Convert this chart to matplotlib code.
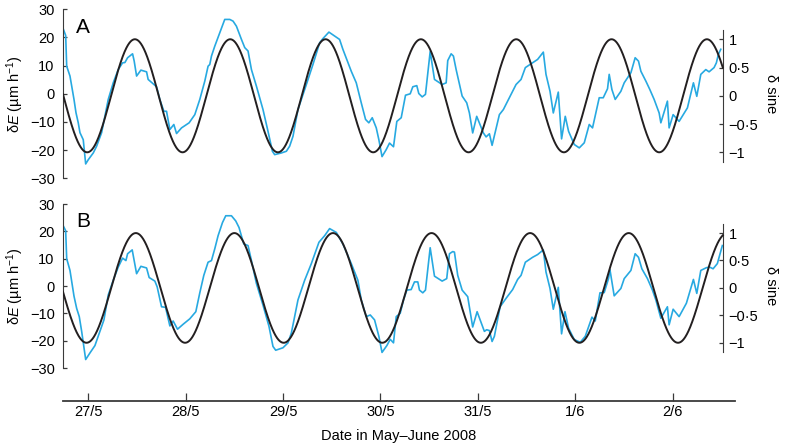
import numpy as np
import matplotlib
matplotlib.use("Agg")
import matplotlib.pyplot as plt

plt.rcParams['font.family'] = ['Liberation Sans', 'DejaVu Sans']
plt.rcParams['mathtext.fontset'] = 'custom'
plt.rcParams['mathtext.rm'] = 'Liberation Sans'
plt.rcParams['mathtext.it'] = 'Liberation Sans:italic'

# ---------------- data (hours since 27 May 2008 00:00) ----------------
hours_a = [-6.18, -5.59, -5.34, -4.53, -3.54, -3.05, -2.49, -2.07, -1.26, -0.66,
           -0.02, 1.21, 2.04, 3.27, 4.90, 5.32, 6.13, 7.36, 8.44, 9.01,
           9.67, 10.90, 11.30, 11.89, 12.95, 14.35, 14.74, 16.15, 16.81, 17.62,
           18.61, 19.27, 20.09, 21.07, 21.74, 22.97, 24.84, 26.24, 27.47, 28.70,
           29.51, 29.93, 30.35, 31.16, 32.39, 33.62, 34.86, 35.67, 36.50, 37.74,
           38.55, 39.36, 40.20, 41.43, 43.05, 44.28, 45.37, 45.93, 47.58, 48.81,
           49.62, 50.44, 51.67, 53.74, 55.36, 57.01, 57.82, 59.30, 61.93, 62.74,
           64.81, 66.04, 67.27, 68.33, 69.14, 69.98, 70.97, 71.61, 72.39, 73.43,
           74.24, 75.22, 76.04, 77.12, 78.18, 79.34, 79.98, 80.96, 81.45, 82.29,
           83.10, 84.26, 85.32, 87.21, 88.20, 88.59, 89.43, 89.99, 90.66, 92.14,
           93.27, 93.93, 94.74, 95.73, 97.38, 98.04, 98.86, 99.52, 101.32, 102.30,
           103.78, 105.43, 106.66, 107.72, 109.51, 110.74, 112.15, 112.81, 113.80, 114.61,
           115.84, 116.65, 117.56, 118.37, 119.78, 121.01, 122.24, 123.47, 124.28, 125.93,
           126.92, 127.98, 128.39, 129.06, 129.87, 131.27, 132.09, 133.74, 134.79, 135.61,
           136.20, 137.43, 138.41, 139.47, 140.70, 141.12, 142.74, 143.16, 144.15, 145.62,
           147.67, 149.15, 149.98, 150.97, 152.20, 153.01, 154.24, 154.81, 155.30, 155.89]
delta_e_a = [23, 20.7, 9.8, 6.3, -2, -6.7, -10.3, -13.8, -16.3, -24.9,
             -23.4, -21, -18.6, -13.8, -2, 0, 3.9, 8.6, 11, 11.1,
             12.8, 14.2, 11.6, 6.3, 8.4, 7.8, 5.1, 3.3, 2.5, -2,
             -6.2, -6.2, -12.7, -10.9, -14.1, -12.1, -10.3, -7.4, -2, 4.5,
             9.8, 10.4, 13.4, 16.9, 21.7, 26.4, 26.4, 25.8, 24, 19.3,
             16.4, 15.2, 8.6, 2.7, -5.6, -13.3, -20.4, -21.6, -21, -20.4,
             -18.6, -15.1, -5.6, 3.3, 10.4, 18.1, 19.6, 21.9, 19.3, 15.8,
             8, 3.9, -3.2, -9.1, -10.3, -8.5, -12.1, -16.3, -22.3, -19.8,
             -17.5, -18.8, -9.8, -8.5, -0.5, 0, 2.5, 2.9, 0.1, -1.1,
             -0.2, 15, 5.1, 3.3, 3.9, 11.8, 14.2, 13.4, 8.6, -0.8,
             -3.2, -6.8, -13.9, -8, -13.9, -15.3, -14.2, -18.3, -7.4, -5.6,
             -1.4, 3.3, 5.1, 9.3, 11, 12.2, 14.8, 6.9, 0.9, -6.8,
             0.6, -16, -8, -13.3, -18, -19.2, -17.4, -10.9, -12.1, -1.4,
             -1.4, 1.8, 6.9, 1.5, -2, 0.9, 3.9, 7.5, 12.8, 11.6,
             8, 4.5, 1.5, -2, -6.8, -10.3, -2.6, -12.1, -7.4, -9.8,
             -5, 3.9, -0.9, 6.9, 8.6, 7.8, 9.3, 11, 14, 15.8]

hours_b = [-6.18, -5.59, -5.34, -4.53, -3.54, -2.88, -2.24, -1.65, -0.66, 0.39,
           1.62, 2.86, 3.84, 4.90, 6.13, 7.36, 8.44, 9.26, 9.67, 10.81,
           11.30, 11.89, 12.95, 14.35, 14.99, 16.39, 16.96, 18.04, 19.03, 20.09,
           20.90, 21.98, 23.36, 25.01, 26.49, 27.47, 28.46, 29.51, 30.35, 31.16,
           31.98, 33.06, 33.87, 35.27, 36.33, 37.14, 38.30, 39.36, 40.20, 41.43,
           43.05, 44.53, 45.51, 46.18, 47.97, 49.21, 50.04, 50.44, 51.67, 53.32,
           54.97, 56.84, 58.24, 59.47, 61.12, 62.74, 64.81, 66.44, 67.27, 68.50,
           69.49, 70.55, 71.61, 72.39, 73.58, 74.41, 75.22, 75.89, 76.87, 77.69,
           78.50, 79.58, 80.39, 81.21, 81.62, 82.44, 83.10, 84.26, 85.32, 87.21,
           88.34, 89.01, 89.82, 90.24, 91.05, 92.14, 93.51, 94.74, 95.83, 97.62,
           98.19, 98.86, 99.52, 100.09, 101.49, 102.97, 104.59, 105.82, 106.66, 107.72,
           109.51, 110.74, 112.15, 112.81, 113.80, 114.61, 115.84, 116.65, 117.49, 118.37,
           119.78, 121.26, 122.49, 124.14, 124.95, 126.11, 127.16, 128.22, 128.57, 129.62,
           131.27, 132.09, 133.74, 134.79, 135.61, 136.44, 137.82, 139.05, 139.89, 141.12,
           142.74, 143.16, 144.15, 145.62, 147.42, 149.15, 149.98, 150.97, 152.35, 153.18,
           154.00, 155.05, 156.28]
delta_e_b = [22, 20.2, 10, 5.7, -3.7, -8.2, -11.2, -16.6, -26.9, -24.5,
             -21.8, -16.6, -12.4, -3.3, 2.1, 6.9, 10.2, 9.3, 11.8, 13.2,
             9.3, 4.5, 7.2, 6.6, 3.1, 1.8, -0.3, -7.6, -7.8, -14.6,
             -12.8, -15.8, -14, -12, -9.4, -2.5, 3.9, 8.7, 9.3, 13.6,
             18.4, 23.2, 25.7, 25.7, 23.8, 21.4, 15.4, 14.8, 9.3, 0.9,
             -7, -14.8, -22.1, -23.5, -22.6, -20.8, -17.2, -14.2, -5.1, 2.1,
             8.2, 16, 18.4, 21, 19.6, 15.4, 8.2, 2.1, -5.1, -11.2,
             -10.6, -12.4, -18.4, -24.3, -21.8, -19.5, -20.8, -11.2, -10, -5.1,
             -1.5, -1.3, 1.5, 1.5, -1.5, -2.5, -1.5, 14, 3.6, 1.8,
             2.7, 11.8, 12.6, 12.4, 3.9, -1.5, -3.9, -15, -9.4, -16.6,
             -16, -16.3, -20.3, -18.4, -7.6, -4.5, -1.3, 2.4, 3.9, 8.7,
             10.5, 11.5, 13.2, 5.1, -0.9, -8.5, -0.5, -17.5, -9.4, -15.4,
             -19.6, -20.6, -18.4, -11.4, -12.8, -2.5, -2.4, 2.7, 6, -3.6,
             -0.9, 2.7, 5.7, 11.8, 10.5, 6.3, 2.7, -1.5, -5.1, -11.8,
             -7.6, -14.2, -8.5, -11.2, -6.3, 2.4, -2.7, 5.7, 6.7, 6.9,
             6.3, 8.2, 14.8]

# reference sine curves: peak time (h) and period (h)
sine_peak_a, sine_period_a = 11.47, 23.5
sine_peak_b, sine_period_b = 11.7, 24.3
t_start, t_end = -6.25, 156.4

date_ticks = [0, 24, 48, 72, 96, 120, 144]
date_labels = ['27/5', '28/5', '29/5', '30/5', '31/5', '1/6', '2/6']
left_ticks = [-30, -20, -10, 0, 10, 20, 30]
right_ticks = [-1, -0.5, 0, 0.5, 1]
right_labels = ['\u22121', '\u22120\u00b75', '0', '0\u00b75', '1']

BLUE = '#27a9e1'
BLACK = '#231f20'
AX = '#3a3a3a'

W, H = 786, 447
fig = plt.figure(figsize=(W / 100, H / 100), dpi=100)

def rect(x0, y_top, x1, y_bot):
    return [x0 / W, 1 - y_bot / H, (x1 - x0) / W, (y_bot - y_top) / H]

panels = [
    (rect(63, 9.3, 735, 178.3), hours_a, delta_e_a, sine_peak_a, sine_period_a, 'A', False),
    (rect(63, 204, 735, 368), hours_b, delta_e_b, sine_peak_b, sine_period_b, 'B', True),
]

for r, hrs, vals, pk, per, lab, bottom in panels:
    ax = fig.add_axes(r)
    ax.plot(hrs, vals, color=BLUE, lw=1.2, zorder=2)
    ax.set_xlim(t_start, 159.4)
    ax.set_ylim(-30, 30)
    for s in ['top', 'right']:
        ax.spines[s].set_visible(False)
    ax.spines['left'].set_bounds(-30, 30)
    ax.spines['left'].set_color(AX)
    ax.set_yticks(left_ticks)
    ax.tick_params(axis='y', direction='in', length=3, width=0.9, pad=6,
                   labelsize=10.5, color=AX)
    ax.set_ylabel('\u03b4$E$ (\u00b5m h$^{\u22121}$)', fontsize=10.5, labelpad=3)
    if bottom:
        ax.spines['bottom'].set_position(('outward', 23.8))
        ax.spines['bottom'].set_color(AX)
        ax.spines['bottom'].set_linewidth(1.3)
        ax.set_xticks(date_ticks)
        ax.set_xticklabels(date_labels)
        ax.tick_params(axis='x', direction='in', length=6, width=0.9, pad=3,
                       labelsize=10.5, color=AX)
        ax.set_xlabel('Date in May\u2013June 2008', fontsize=10.5, labelpad=7)
    else:
        ax.spines['bottom'].set_visible(False)
        ax.set_xticks([])
    ax.text(0.02, 0.95, lab, transform=ax.transAxes, fontsize=15,
            ha='left', va='top')

    ax2 = ax.twinx()
    t = np.linspace(t_start, t_end, 3000)
    ax2.plot(t, np.cos(2 * np.pi * (t - pk) / per), color=BLACK, lw=1.4, zorder=3)
    ax2.set_ylim(-1.46, 1.53)
    ax2.set_xlim(t_start, 159.4)
    for s in ['top', 'left', 'bottom']:
        ax2.spines[s].set_visible(False)
    ax2.spines['right'].set_position(('data', t_end))
    ax2.spines['right'].set_bounds(-1.17, 1.17)
    ax2.spines['right'].set_color(AX)
    ax2.set_yticks(right_ticks)
    ax2.set_yticklabels(right_labels)
    ax2.tick_params(axis='y', direction='in', length=3, width=0.9, pad=4,
                    labelsize=10.5, color=AX)
    ax2.set_ylabel('\u03b4 sine', fontsize=10.5, rotation=270, labelpad=14)

fig.savefig('out.png', dpi=100)
